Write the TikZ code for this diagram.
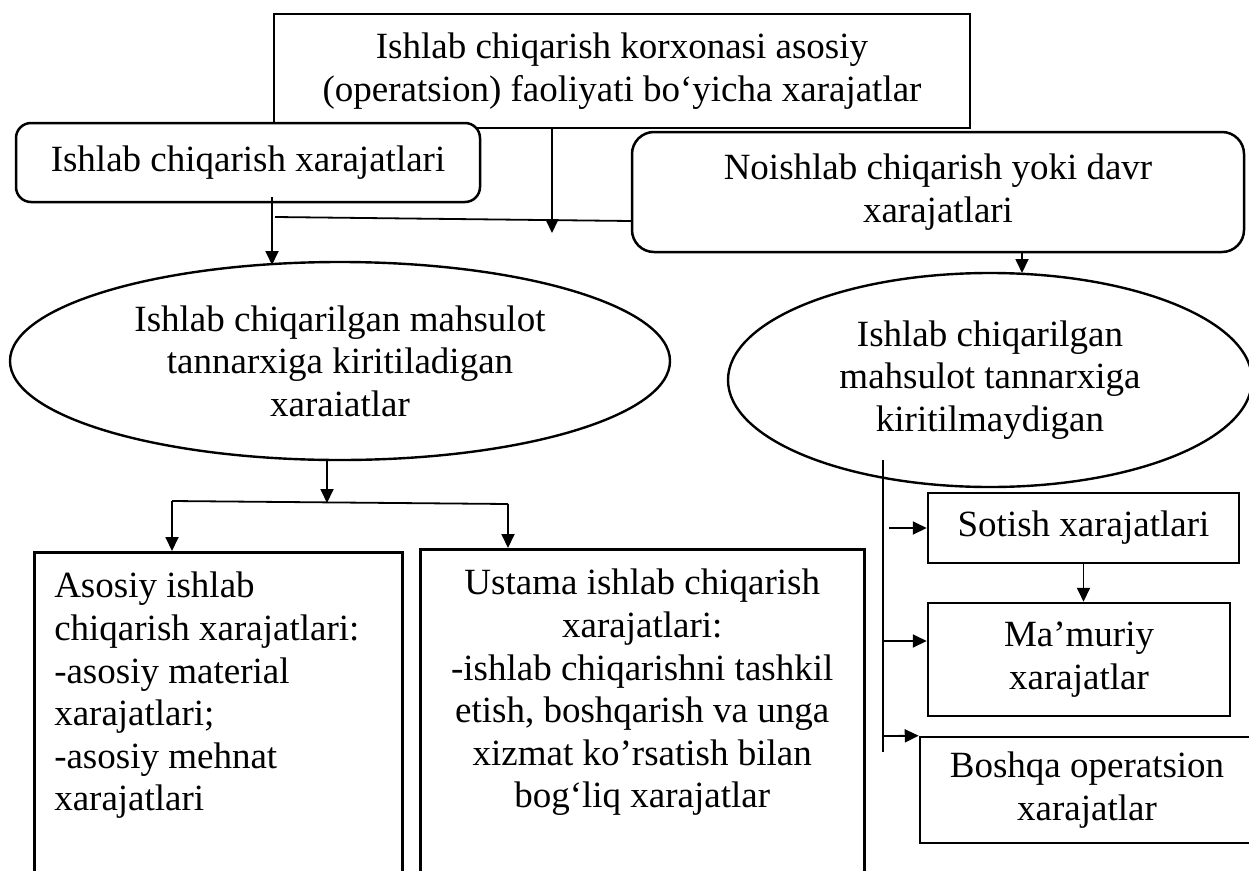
\documentclass[tikz,border=0pt]{standalone}
\usepackage{fontspec}
\setmainfont{Liberation Serif}
\usetikzlibrary{arrows.meta,shapes.geometric}
\tikzset{
  txt/.style={font=\fontsize{37pt}{42.6pt}\selectfont},
  box/.style={txt, draw, fill=white, line width=2.5pt, rectangle, align=center, inner sep=0pt},
  rbox/.style={box, rounded corners=18pt},
  oval/.style={txt, draw, fill=white, line width=2.4pt, ellipse, align=center, inner sep=0pt},
  conn/.style={line width=1.8pt},
  arr/.style={conn, -{Triangle[length=14pt,width=13pt]}},
}
\begin{document}
\begin{tikzpicture}[x=1pt,y=-1pt]
\useasboundingbox (0,0) rectangle (1249,870);
\clip (0,0) rectangle (1249,870);
\fill[white] (0,0) rectangle (1249,870);

% top level: all operating costs
\node[box, minimum width=696pt, minimum height=114pt] (top) at (622,71)
  {Ishlab chiqarish korxonasi asosiy\\(operatsion) faoliyati bo‘yicha xarajatlar};

% the two main groups
\node[rbox, rounded corners=15pt, minimum width=464pt, minimum height=79pt] (prod) at (248,162.5)
  {Ishlab chiqarish xarajatlari};
\node[rbox, rounded corners=22pt, minimum width=612pt, minimum height=120pt] (nonprod) at (938,192)
  {Noishlab chiqarish yoki davr\\xarajatlari};

% cost classes
\node[oval, minimum width=660pt, minimum height=198pt] (incl) at (340,361)
  {Ishlab chiqarilgan mahsulot\\tannarxiga kiritiladigan\\xaraiatlar};
\node[oval, minimum width=524pt, minimum height=214pt] (excl) at (990,380)
  {Ishlab chiqarilgan\\mahsulot tannarxiga\\kiritilmaydigan};

% product cost items
\node[box, anchor=north west, inner sep=20pt] (direct) at (33,551)
  {\parbox[c][400pt][t]{328pt}{Asosiy ishlab\\
   chiqarish xarajatlari:\\
   -asosiy material\\
   xarajatlari;\\
   -asosiy mehnat\\
   xarajatlari}};
\node[box, anchor=north west, inner sep=20pt] (overhead) at (419,548)
  {\parbox[c][400pt][t]{404pt}{\centering Ustama ishlab chiqarish\\
   xarajatlari:\\
   -ishlab chiqarishni tashkil\\
   etish, boshqarish va unga\\
   xizmat ko’rsatish bilan\\
   bog‘liq xarajatlar}};

% period cost items
\node[box, minimum width=311pt, minimum height=70pt] (sotish) at (1083.5,528)
  {Sotish xarajatlari};
\node[box, minimum width=302pt, minimum height=113pt] (mamuriy) at (1079,659.5)
  {Ma’muriy\\xarajatlar};
\node[box, minimum width=334pt, minimum height=106pt] (boshqa) at (1087,790)
  {Boshqa operatsion\\xarajatlar};

% connectors in the upper part
\coordinate (a1) at (552,233);
\draw[arr] (top.south -| a1) -- (a1);
\coordinate (h1) at (275,217);
\coordinate (h2) at (0,221);
\draw[conn] (h1) -- (nonprod.west |- h2);
\coordinate (a2s) at (272,197);
\coordinate (a2) at (272,265);
\draw[arr] (a2s) -- (a2);
\coordinate (a3) at (1022,273);
\draw[arr] (nonprod.south -| a3) -- (a3);

% split below the left oval
\coordinate (j1) at (327,503);
\draw[arr] (incl.south -| j1) -- (j1);
\coordinate (s1) at (172,501);
\coordinate (s2) at (508,504);
\draw[conn] (s1) -- (s2);
\draw[arr] (s1) -- (s1 |- direct.north);
\draw[arr] (s2) -- (s2 |- overhead.north);

% bus on the right
\coordinate (v1) at (883,460);
\coordinate (v2) at (883,752);
\draw[conn] (v1) -- (v2);
\coordinate (b1) at (889,528);
\draw[arr] (b1) -- (sotish.west |- b1);
\coordinate (b2) at (882,641);
\draw[arr] (b2) -- (mamuriy.west |- b2);
\coordinate (b3) at (882,736);
\draw[arr] (b3) -- (boshqa.north west);
\draw[arr] (sotish.south) -- (sotish.south |- mamuriy.north);
\end{tikzpicture}
\end{document}
